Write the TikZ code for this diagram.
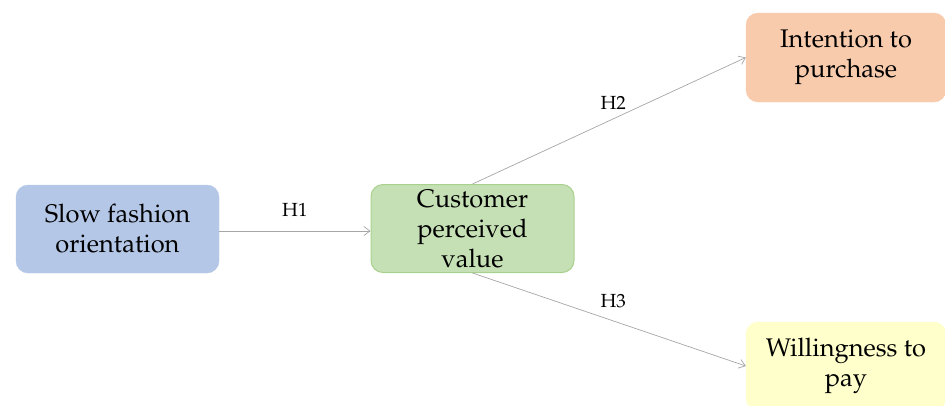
\documentclass[tikz,border=0pt]{standalone}
\usepackage[T1]{fontenc}
\usepackage{mathpazo}
\usetikzlibrary{arrows.meta}
\definecolor{boxblue}{HTML}{B4C7E7}
\definecolor{boxgreen}{HTML}{C5E0B4}
\definecolor{edgegreen}{HTML}{A9D18E}
\definecolor{boxorange}{HTML}{F8CBAD}
\definecolor{boxyellow}{HTML}{FFFFCC}
\definecolor{linegray}{HTML}{A6A6A6}
\tikzset{
  box/.style={rounded corners=12pt, minimum width=203pt, minimum height=88pt, align=center,
    font=\fontsize{25.5}{30}\selectfont, inner sep=1pt},
  conn/.style={draw=linegray, line width=0.7pt, -{Straight Barb[length=6pt,width=9pt]}},
  hlab/.style={font=\fontsize{19}{21}\selectfont, inner sep=2pt}
}
\begin{document}
\begin{tikzpicture}[x=1pt,y=-1pt]
\useasboundingbox (0,0) rectangle (945,405);
\node[box, fill=boxblue, draw=boxblue] (sfo) at (117.5,229) {Slow fashion\\orientation};
\node[box, fill=boxgreen, draw=edgegreen, line width=1pt] (cpv) at (472.5,228.5) {Customer\\perceived\\value};
\node[box, fill=boxorange, draw=boxorange, minimum width=200pt, minimum height=89pt] (itp) at (846,57.5) {Intention to\\purchase};
\node[box, fill=boxyellow, draw=boxyellow, minimum width=200pt] (wtp) at (846,366) {Willingness to\\pay};
\draw[conn] (sfo.east |- 0,231) -- node[hlab, above=12pt] {H1} (cpv.west |- 0,231);
\draw[conn] (cpv.north) -- node[hlab, above=9pt, xshift=4pt] {H2} (itp.west);
\draw[conn] (cpv.south) -- node[hlab, above=9pt, xshift=4pt] {H3} (wtp.west);
\end{tikzpicture}
\end{document}
